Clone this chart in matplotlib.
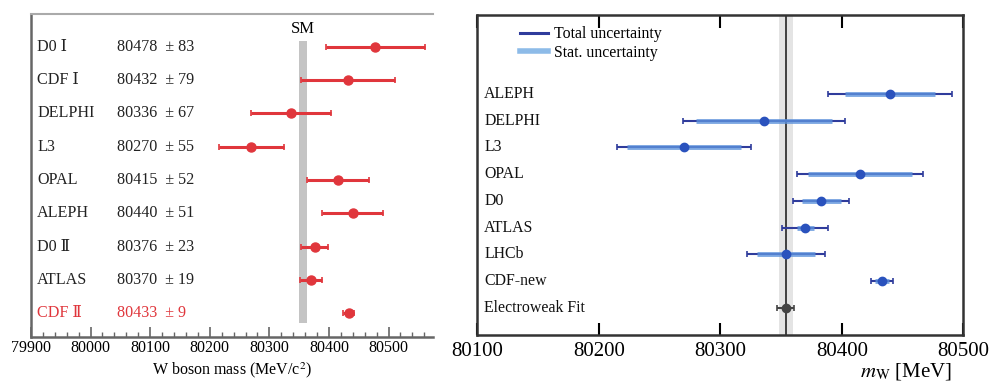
import matplotlib
matplotlib.use("Agg")
import matplotlib.pyplot as plt
from matplotlib.lines import Line2D
from matplotlib.ticker import MultipleLocator

plt.rcParams['font.family'] = ['Liberation Serif', 'DejaVu Serif']
plt.rcParams['mathtext.fontset'] = 'stix'

# left panel: W mass measurements vs SM
names_l = ["D0 Ⅰ", "CDF Ⅰ", "DELPHI", "L3", "OPAL", "ALEPH", "D0 Ⅱ", "ATLAS", "CDF Ⅱ"]
mass_l = [80478, 80432, 80336, 80270, 80415, 80440, 80376, 80370, 80433]
err_l = [83, 79, 67, 55, 52, 51, 23, 19, 9]
sm_mass, sm_err = 80356, 7

# right panel: total and stat uncertainties
names_r = ["ALEPH", "DELPHI", "L3", "OPAL", "D0", "ATLAS", "LHCb", "CDF-new", "Electroweak Fit"]
mass_r = [80440, 80336, 80270, 80415, 80383, 80370, 80354, 80433, 80354]
tot_r = [51, 67, 55, 52, 23, 19, 32, 9, 7]
stat_r = [37, 56, 47, 43, 16, 7, 24, 6, 0]
ew_mass, ew_err = 80354, 6

red = '#e0363c'
dblue = '#2f3c9c'
lblue = '#5d92dc'
mblue = '#2a52bd'

fig = plt.figure(figsize=(9.93, 3.85), dpi=100)

# ---- left
ax = fig.add_axes([0.0312, 0.1247, 0.4045, 0.839])
ax.set_xlim(79900, 80574)
ax.set_ylim(8.72, -0.99)
ax.axvspan(sm_mass - sm_err, sm_mass + sm_err, ymin=(8.72 - 8.3) / 9.71, ymax=(8.72 + 0.18) / 9.71,
           color='#c4c4c4', lw=0)
ax.text(sm_mass, -0.54, "SM", ha='center', va='center', fontsize=12)
ypos = list(range(len(names_l)))
ax.errorbar(mass_l, ypos, xerr=err_l, fmt='o', color=red, ms=6.5, elinewidth=2.2,
            capsize=2.5, capthick=1.2)
trans = ax.get_yaxis_transform()
for i, (n, m, e) in enumerate(zip(names_l, mass_l, err_l)):
    c = red if i == len(names_l) - 1 else '#222222'
    ax.text(0.015, i, n, transform=trans, ha='left', va='center', fontsize=11.6, color=c)
    ax.text(0.214, i, f"{m}  ± {e}", transform=trans, ha='left', va='center', fontsize=11.6, color=c)
ax.xaxis.set_major_locator(MultipleLocator(100))
ax.xaxis.set_minor_locator(MultipleLocator(20))
ax.tick_params(axis='x', which='major', direction='in', length=7, width=1.2, color='#666666',
               labelsize=11.5, pad=2)
ax.tick_params(axis='x', which='minor', direction='in', length=3.5, width=1.0, color='#666666')
ax.set_yticks([])
ax.spines['right'].set_visible(False)
ax.spines['top'].set_color('#aaaaaa')
ax.spines['top'].set_linewidth(1.5)
ax.spines['left'].set_color('#666666')
ax.spines['left'].set_linewidth(1.8)
ax.spines['bottom'].set_color('#666666')
ax.spines['bottom'].set_linewidth(1.8)
ax.set_xlabel("W boson mass (MeV/c$^2$)", fontsize=11.5, labelpad=3)

# ---- right
ax2 = fig.add_axes([0.4807, 0.1299, 0.4894, 0.831])
ax2.set_xlim(80100, 80500)
ax2.set_ylim(9.01, -2.95)
ax2.axvspan(ew_mass - ew_err, ew_mass + ew_err, color='#e4e4e4', lw=0, zorder=0)
ax2.axvline(ew_mass, color='#333333', lw=1.3, zorder=1)
yr = list(range(len(names_r)))
n_exp = len(names_r) - 1
ax2.errorbar(mass_r[:n_exp], yr[:n_exp], xerr=tot_r[:n_exp], fmt='none', ecolor=dblue,
             elinewidth=1.5, capsize=2.5, capthick=1.2, zorder=2)
ax2.errorbar(mass_r[:n_exp], yr[:n_exp], xerr=stat_r[:n_exp], fmt='none', ecolor=lblue,
             elinewidth=3.5, alpha=0.8, zorder=3)
ax2.plot(mass_r[:n_exp], yr[:n_exp], 'o', color=mblue, ms=6, zorder=4)
ax2.errorbar(mass_r[n_exp:], yr[n_exp:], xerr=tot_r[n_exp:], fmt='o', color='#444444', ms=6,
             elinewidth=1.5, capsize=2.5, capthick=1.2, zorder=4)
trans2 = ax2.get_yaxis_transform()
for i, n in enumerate(names_r):
    ax2.text(0.014, i, n, transform=trans2, ha='left', va='center', fontsize=11.4, color='#111111')
ax2.set_xticks([80100, 80200, 80300, 80400, 80500])
ax2.tick_params(axis='x', direction='in', top=True, length=9, width=1.5, labelsize=15, pad=5)
ax2.set_yticks([])
for s in ax2.spines.values():
    s.set_linewidth(1.8)
    s.set_color('#333333')
handles = [Line2D([], [], color=dblue, lw=2.2), Line2D([], [], color='#8dbbe8', lw=4)]
ax2.legend(handles, ["Total uncertainty", "Stat. uncertainty"], loc='upper left',
           bbox_to_anchor=(0.088, 0.965), frameon=False, fontsize=11.4, handlelength=1.75,
           handletextpad=0.4, labelspacing=0.15, borderpad=0, borderaxespad=0)
fig.text(0.959, 0.034, "$m_{\\mathrm{W}}$ [MeV]", ha='right', va='center', fontsize=15)

fig.savefig("out.png", dpi=100)
